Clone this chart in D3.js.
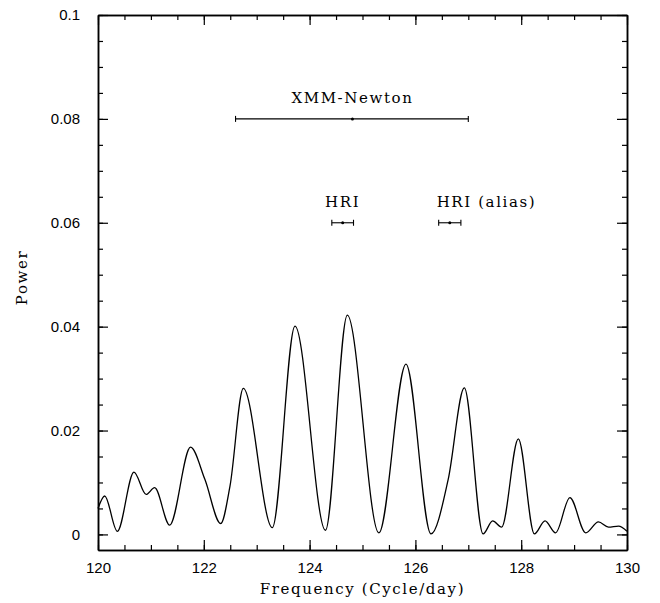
<!DOCTYPE html>
<html>
<head>
<meta charset="utf-8">
<script src="https://cdn.jsdelivr.net/npm/d3@7"></script>
<style>
  body { margin: 0; background: #fff; }
  .tick text { font-family: "Liberation Sans", Arial, sans-serif; font-size: 15px; fill: #000; }
  .lbl { font-family: "DejaVu Serif", serif; font-size: 15px; letter-spacing: 1.6px; fill: #000; }
</style>
</head>
<body>
<script>
// periodogram (peaks, minima, a few shoulders)
const freq = [120.0, 120.127, 120.365, 120.68, 120.91, 121.07, 121.355, 121.75, 122.02, 122.32,
  122.495, 122.747, 123.295, 123.724, 124.30, 124.713, 125.31, 125.822, 126.295, 126.62,
  126.925, 127.28, 127.46, 127.63, 127.946, 128.25, 128.45, 128.65, 128.92, 129.22,
  129.46, 129.65, 129.84, 130.0];
const power = [0.005, 0.0074, 0.0006, 0.012, 0.0077, 0.009, 0.0018, 0.0168, 0.0106, 0.0021,
  0.0093, 0.0281, 0.0013, 0.0401, 0.0008, 0.0422, 0.0003, 0.0328, 0.0001, 0.0106,
  0.0282, 0.0001, 0.0026, 0.0014, 0.0184, 0.0001, 0.0026, 0.0003, 0.0071, 0.0003,
  0.0024, 0.0014, 0.0016, 0.0006];

// frequency estimates with error bars
const barNames = ["XMM-Newton", "HRI", "HRI (alias)"];
const barCenter = [124.81, 124.625, 126.65];
const barLow = [122.60, 124.42, 126.44];
const barHigh = [127.00, 124.83, 126.86];
const barPower = [0.08, 0.06, 0.06];

const xTicks = [120, 122, 124, 126, 128, 130];
const yTicks = [0, 0.02, 0.04, 0.06, 0.08, 0.1];
const yTickLabels = ["0", "0.02", "0.04", "0.06", "0.08", "0.1"];

const w = 660, h = 603;
const mLeft = 98, mRight = 627, mTop = 15, mBottom = 550;

const svg = d3.select("body").append("svg")
  .attr("width", w)
  .attr("height", h);

const x = d3.scaleLinear().domain([120, 130]).range([mLeft, mRight]);
const y = d3.scaleLinear().domain([-0.003, 0.1]).range([mBottom, mTop]);

// minor ticks, all four sides
const minorX = x.ticks(20), minorY = y.ticks(20);
svg.append("g").attr("transform", `translate(0,${mBottom})`)
  .call(d3.axisBottom(x).tickValues(minorX).tickFormat("").tickSize(-5).tickSizeOuter(0));
svg.append("g").attr("transform", `translate(0,${mTop})`)
  .call(d3.axisTop(x).tickValues(minorX).tickFormat("").tickSize(-5).tickSizeOuter(0));
svg.append("g").attr("transform", `translate(${mLeft},0)`)
  .call(d3.axisLeft(y).tickValues(minorY).tickFormat("").tickSize(-5).tickSizeOuter(0));
svg.append("g").attr("transform", `translate(${mRight},0)`)
  .call(d3.axisRight(y).tickValues(minorY).tickFormat("").tickSize(-5).tickSizeOuter(0));

// major ticks
svg.append("g").attr("transform", `translate(0,${mBottom})`)
  .call(d3.axisBottom(x).tickValues(xTicks).tickFormat(d3.format("d")).tickSize(-10).tickSizeOuter(0).tickPadding(12));
svg.append("g").attr("transform", `translate(0,${mTop})`)
  .call(d3.axisTop(x).tickValues(xTicks).tickFormat("").tickSize(-10).tickSizeOuter(0));
svg.append("g").attr("transform", `translate(${mLeft},0)`)
  .call(d3.axisLeft(y).tickValues(yTicks).tickFormat((d, i) => yTickLabels[i]).tickSize(-10).tickSizeOuter(0).tickPadding(18));
svg.append("g").attr("transform", `translate(${mRight},0)`)
  .call(d3.axisRight(y).tickValues(yTicks).tickFormat("").tickSize(-10).tickSizeOuter(0));

svg.selectAll(".tick line").attr("stroke", "#000").attr("stroke-width", 1.2);
svg.selectAll(".domain").attr("stroke", "#000").attr("stroke-width", 1.5);

// curve
const line = d3.line()
  .x((d, i) => x(freq[i]))
  .y(d => y(d))
  .curve(d3.curveMonotoneX);

svg.append("path")
  .datum(power)
  .attr("fill", "none")
  .attr("stroke", "#000")
  .attr("stroke-width", 1.3)
  .attr("d", line);

// error bars
const bars = svg.selectAll(".ebar")
  .data(barNames)
  .enter()
  .append("g")
  .attr("class", "ebar");

bars.append("line")
  .attr("x1", (d, i) => x(barLow[i]))
  .attr("x2", (d, i) => x(barHigh[i]))
  .attr("y1", (d, i) => y(barPower[i]))
  .attr("y2", (d, i) => y(barPower[i]))
  .attr("stroke", "#000").attr("stroke-width", 1.1);
bars.append("line")
  .attr("x1", (d, i) => x(barLow[i])).attr("x2", (d, i) => x(barLow[i]))
  .attr("y1", (d, i) => y(barPower[i]) - 3).attr("y2", (d, i) => y(barPower[i]) + 3)
  .attr("stroke", "#000").attr("stroke-width", 1.1);
bars.append("line")
  .attr("x1", (d, i) => x(barHigh[i])).attr("x2", (d, i) => x(barHigh[i]))
  .attr("y1", (d, i) => y(barPower[i]) - 3).attr("y2", (d, i) => y(barPower[i]) + 3)
  .attr("stroke", "#000").attr("stroke-width", 1.1);
bars.append("circle")
  .attr("cx", (d, i) => x(barCenter[i]))
  .attr("cy", (d, i) => y(barPower[i]))
  .attr("r", 1.5);

bars.append("text")
  .attr("class", "lbl")
  .attr("x", (d, i) => i === 2 ? x(barLow[i]) - 2 : x(barCenter[i]))
  .attr("y", (d, i) => y(barPower[i]) - 16)
  .attr("text-anchor", (d, i) => i === 2 ? "start" : "middle")
  .text(d => d);

// axis titles
svg.append("text")
  .attr("class", "lbl")
  .attr("x", (mLeft + mRight) / 2)
  .attr("y", 594)
  .attr("text-anchor", "middle")
  .text("Frequency (Cycle/day)");

svg.append("text")
  .attr("class", "lbl")
  .attr("transform", `translate(27,${(mTop + mBottom) / 2 - 5}) rotate(-90)`)
  .attr("text-anchor", "middle")
  .text("Power");
</script>
</body>
</html>
